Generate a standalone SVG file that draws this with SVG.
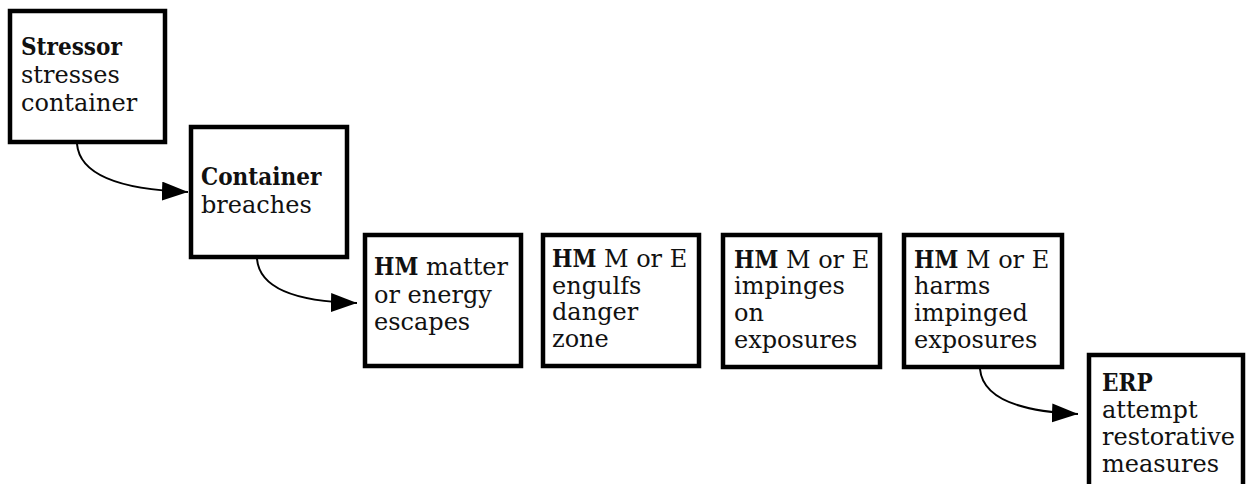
<svg xmlns="http://www.w3.org/2000/svg" width="1246" height="484" viewBox="0 0 1246 484">
<style>
.box{fill:#fff;stroke:#000;stroke-width:4.5}
.t{font-family:"DejaVu Serif",serif;font-size:24px;fill:#111}
.b{font-weight:bold;font-stretch:semi-condensed}
.c{fill:none;stroke:#000;stroke-width:2}
</style>
<defs>
<marker id="ah" markerUnits="userSpaceOnUse" markerWidth="28" markerHeight="20" refX="26" refY="9.5" orient="auto" viewBox="0 0 28 20">
<path d="M0,0 L26,9.5 L0,19 z" fill="#000"/>
</marker>
</defs>
<rect width="1246" height="484" fill="#fff"/>
<g id="connectors">
<path class="c" d="M77,144 C80,178 130,190 188,192" marker-end="url(#ah)"/>
<path class="c" d="M257,259 C260,292 305,302 357,303" marker-end="url(#ah)"/>
<path class="c" d="M980,369 C983,402 1028,412 1078,414" marker-end="url(#ah)"/>
</g>
<g id="stressor">
<rect class="box" x="10" y="11" width="155" height="131"/>
<text class="t" x="21" y="55"><tspan class="b">Stressor</tspan><tspan x="21" y="83">stresses</tspan><tspan x="21" y="111">container</tspan></text>
</g>
<g id="container">
<rect class="box" x="191" y="127" width="156" height="130"/>
<text class="t" x="201" y="185"><tspan class="b">Container</tspan><tspan x="201" y="213">breaches</tspan></text>
</g>
<g id="hm-escapes">
<rect class="box" x="365" y="235" width="156" height="131"/>
<text class="t" x="374" y="275"><tspan class="b">HM</tspan> matter<tspan x="374" y="303">or energy</tspan><tspan x="374" y="330">escapes</tspan></text>
</g>
<g id="hm-engulfs">
<rect class="box" x="543" y="235" width="156" height="131"/>
<text class="t" x="552" y="267"><tspan class="b">HM</tspan> M or E<tspan x="552" y="294">engulfs</tspan><tspan x="552" y="320">danger</tspan><tspan x="552" y="347">zone</tspan></text>
</g>
<g id="hm-impinges">
<rect class="box" x="723" y="235" width="157" height="132"/>
<text class="t" x="734" y="268"><tspan class="b">HM</tspan> M or E<tspan x="734" y="294">impinges</tspan><tspan x="734" y="321">on</tspan><tspan x="734" y="348">exposures</tspan></text>
</g>
<g id="hm-harms">
<rect class="box" x="904" y="235" width="158" height="132"/>
<text class="t" x="914" y="268"><tspan class="b">HM</tspan> M or E<tspan x="914" y="294">harms</tspan><tspan x="914" y="321">impinged</tspan><tspan x="914" y="348">exposures</tspan></text>
</g>
<g id="erp">
<rect class="box" x="1089" y="355" width="154" height="140"/>
<text class="t" x="1102" y="391"><tspan class="b">ERP</tspan><tspan x="1102" y="418">attempt</tspan><tspan x="1102" y="445">restorative</tspan><tspan x="1102" y="472">measures</tspan></text>
</g>
</svg>
